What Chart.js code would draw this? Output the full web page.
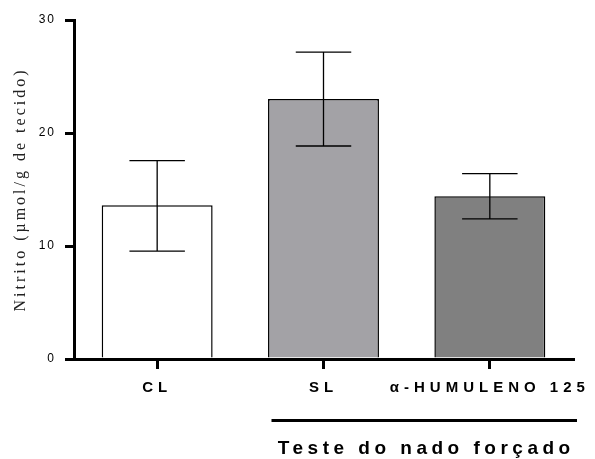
<!DOCTYPE html>
<html><head><meta charset="utf-8">
<script src="https://cdn.jsdelivr.net/npm/chart.js@4/dist/chart.umd.min.js"></script>
<style>html,body{margin:0;padding:0;background:#fff}#wrap{width:595px;height:459px;position:relative}</style>
</head><body><div id="wrap"><canvas id="c" width="595" height="459"></canvas></div>
<script>
const categories = ['CL', 'SL', 'α-HUMULENO 125'];
const means = [13.6, 23.0, 14.4];
const errUpper = [17.55, 27.15, 16.4];
const errLower = [9.55, 18.85, 12.4];
const yTicks = [0, 10, 20, 30];
const yTitle = 'Nitrito (µmol/g de tecido)';
const groupLabel = 'Teste do nado forçado';
const barColors = ['#ffffff', '#a3a2a6', '#808080'];

const spacingPlugin = {
  id: 'spacing',
  beforeDraw(chart) {
    const patch = (scale, labelSp, titleSp) => {
      if (scale._spPatched) return;
      scale._spPatched = true;
      const dl = scale.drawLabels.bind(scale), dt = scale.drawTitle.bind(scale);
      scale.drawLabels = function (a) { const c = this.ctx; c.save(); c.letterSpacing = labelSp; dl(a); c.restore(); };
      scale.drawTitle = function () { const c = this.ctx; c.save(); c.letterSpacing = titleSp; dt(); c.restore(); };
    };
    patch(chart.scales.x, '5px', '0px');
    patch(chart.scales.y, '2px', '3px');
  }
};

const errorBars = {
  id: 'errorBars',
  afterDatasetsDraw(chart) {
    const ctx = chart.ctx, y = chart.scales.y, meta = chart.getDatasetMeta(0);
    ctx.save();
    ctx.strokeStyle = '#000';
    ctx.lineWidth = 1.3;
    meta.data.forEach((bar, i) => {
      const x = bar.x, yt = y.getPixelForValue(errUpper[i]), yb = y.getPixelForValue(errLower[i]);
      const hw = bar.width * 0.25;
      ctx.beginPath();
      ctx.moveTo(x, yt); ctx.lineTo(x, yb);
      ctx.moveTo(x - hw, yt); ctx.lineTo(x + hw, yt);
      ctx.moveTo(x - hw, yb); ctx.lineTo(x + hw, yb);
      ctx.stroke();
    });
    ctx.restore();
  }
};

const groupBracket = {
  id: 'groupBracket',
  afterDraw(chart) {
    const ctx = chart.ctx, xs = chart.scales.x;
    const meta = chart.getDatasetMeta(0);
    const x0 = meta.data[1].x - 52, x1 = xs.right + 4;
    const ly = xs.top + 61.5;
    ctx.save();
    ctx.strokeStyle = '#000';
    ctx.lineWidth = 3;
    ctx.beginPath(); ctx.moveTo(x0, ly); ctx.lineTo(x1, ly); ctx.stroke();
    ctx.fillStyle = '#000';
    ctx.font = 'bold 19px "Liberation Sans", Arial, sans-serif';
    ctx.letterSpacing = '4.5px';
    ctx.textAlign = 'center';
    ctx.textBaseline = 'alphabetic';
    ctx.fillText(groupLabel, (x0 + x1) / 2 + 2, xs.top + 95);
    ctx.restore();
  }
};

new Chart(document.getElementById('c'), {
  type: 'bar',
  data: {
    labels: categories,
    datasets: [{
      data: means,
      backgroundColor: barColors,
      borderColor: '#000',
      borderWidth: 1.5,
      barPercentage: 0.667,
      categoryPercentage: 1.0
    }]
  },
  options: {
    responsive: false,
    devicePixelRatio: 1,
    animation: false,
    layout: { padding: { top: 20, right: 22, bottom: 0, left: 0 } },
    plugins: { legend: { display: false }, tooltip: { enabled: false } },
    scales: {
      x: {
        offset: true,
        grid: { offset: false, drawOnChartArea: false, drawTicks: true, tickLength: 10, color: '#000', lineWidth: 3 },
        border: { display: true, color: '#000', width: 3 },
        ticks: {
          autoSkip: false, maxRotation: 0, minRotation: 0, padding: 10,
          color: '#000',
          font: { family: '"Liberation Sans", Arial, sans-serif', size: 15, weight: 'bold' }
        },
        afterFit: s => { s.height = 100; }
      },
      y: {
        min: 0, max: 30,
        afterBuildTicks: s => { s.ticks = yTicks.map(v => ({ value: v })); },
        grid: { drawOnChartArea: false, drawTicks: true, tickLength: 9, color: '#000', lineWidth: 3 },
        border: { display: true, color: '#000', width: 3 },
        ticks: {
          padding: 9, color: '#000',
          font: { family: '"Liberation Sans", Arial, sans-serif', size: 12 }
        },
        title: {
          display: true, text: yTitle, color: '#222',
          padding: { top: 11, bottom: 0 },
          font: { family: '"Liberation Serif", "Times New Roman", serif', size: 16 }
        },
        afterFit: s => { s.width = 74; }
      }
    }
  },
  plugins: [spacingPlugin, errorBars, groupBracket]
});
</script>
</body></html>
